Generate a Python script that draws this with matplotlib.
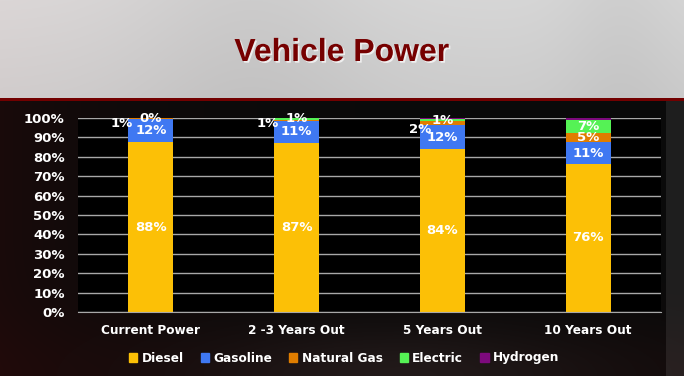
import numpy as np
import matplotlib.pyplot as plt
import matplotlib.patheffects as pe
from matplotlib.patches import Patch

categories = ['Current Power', '2 -3 Years Out', '5 Years Out', '10 Years Out']
series_names = ['Diesel', 'Gasoline', 'Natural Gas', 'Electric', 'Hydrogen']
diesel = [87.6, 87.3, 84.0, 76.3]
gasoline = [11.8, 11.0, 12.4, 11.3]
natural_gas = [0.6, 0.8, 1.9, 4.6]
electric = [0.0, 0.9, 1.2, 7.0]
hydrogen = [0.0, 0.0, 0.5, 0.8]
colors = ['#fcc006', '#3f78f2', '#e07d00', '#55f255', '#7d0a7d']

# which series get a value label, and the nudges for the small ones
show_label = [True, True, True, True, False]
ng_dx = [-0.2, -0.2, -0.15, 0.0]
ng_dy = [-2.3, -1.3, -3.1, 0.0]

W, H = 684, 376
fig = plt.figure(figsize=(W / 100, H / 100), dpi=100)

# slide background: light header, red rule, dark body
yy, xx = np.mgrid[0:H, 0:W]
img = np.zeros((H, W, 3))
head = yy < 98
g = 0.84 - 0.04 * (yy / 98.0) - 0.04 * np.exp(-((xx - 250) / 120.0) ** 2) \
    - 0.03 * np.exp(-((xx - 620) / 60.0) ** 2)
img[..., 0] = np.where(head, g + 0.02 * np.exp(-xx / 150.0), 0)
img[..., 1] = np.where(head, g, 0)
img[..., 2] = np.where(head, g, 0)
body = yy >= 101
red = 0.02 + 0.06 * np.exp(-xx / 120.0) + 0.03 * np.exp(-((yy - 376) / 60.0) ** 2)
grey = 0.02 + 0.06 * np.exp(-((yy - 376) / 50.0) ** 2) * np.exp(-((xx - 400) / 200.0) ** 2) \
    + 0.08 * (xx > 665)
img[..., 0] = np.where(body, red + grey, img[..., 0])
img[..., 1] = np.where(body, 0.02 + grey, img[..., 1])
img[..., 2] = np.where(body, 0.02 + grey, img[..., 2])
rule = (yy >= 98) & (yy < 101)
img[rule] = [0.45, 0.0, 0.0]
bg = fig.add_axes([0, 0, 1, 1])
bg.imshow(np.clip(img, 0, 1), aspect='auto', extent=[0, 1, 0, 1])
bg.axis('off')

fig.text(342 / W, 1 - 61 / H, 'Vehicle Power', ha='center', va='baseline',
         fontsize=23, fontweight='bold', color='#760000',
         family=['Liberation Sans', 'DejaVu Sans'],
         path_effects=[pe.SimplePatchShadow(offset=(1.2, -1.2), shadow_rgbFace='white', alpha=0.7),
                       pe.Normal()])

ax = fig.add_axes([78 / W, 64 / H, 583 / W, 194 / H])
ax.set_facecolor('black')

data = [diesel, gasoline, natural_gas, electric, hydrogen]
x = np.arange(len(categories))
bottom = np.zeros(len(categories))
for k, (name, vals) in enumerate(zip(series_names, data)):
    vals = np.array(vals)
    ax.bar(x, vals, 0.31, bottom=bottom, color=colors[k], label=name, zorder=2)
    if show_label[k]:
        for i in range(len(x)):
            tx = x[i]
            ty = bottom[i] + vals[i] / 2
            if name == 'Natural Gas':
                tx += ng_dx[i]
                ty += ng_dy[i]
            ax.text(tx, ty, f'{round(vals[i])}%', ha='center', va='center',
                    color='white', fontsize=9.5, fontweight='bold', zorder=3)
    bottom += vals

ax.set_xlim(-0.5, len(categories) - 0.5)
ax.set_ylim(0, 100)
ax.set_yticks(np.arange(0, 101, 10))
ax.set_yticklabels([f'{v}%' for v in range(0, 101, 10)])
ax.set_xticks(x)
ax.set_xticklabels(categories)
ax.yaxis.grid(True, color='#a8a8a8', lw=1)
ax.set_axisbelow(True)
for s in ['top', 'right', 'left']:
    ax.spines[s].set_visible(False)
ax.spines['bottom'].set_color('#a8a8a8')
ax.tick_params(axis='y', length=0, pad=9.5, labelcolor='white', labelsize=9.5)
ax.tick_params(axis='x', length=0, pad=9, labelcolor='white', labelsize=8.7)
for lab in ax.get_xticklabels() + ax.get_yticklabels():
    lab.set_fontweight('bold')

handles = [Patch(color=c, label=n) for c, n in zip(colors, series_names)]
leg = fig.legend(handles=handles, loc='center', bbox_to_anchor=(344 / W, 1 - 358 / H),
                 ncol=5, frameon=False, handlelength=0.7, handleheight=0.7,
                 handletextpad=0.35, columnspacing=1.4,
                 prop={'weight': 'bold', 'size': 8.7})
for t in leg.get_texts():
    t.set_color('white')

fig.savefig('out.png', dpi=100)
